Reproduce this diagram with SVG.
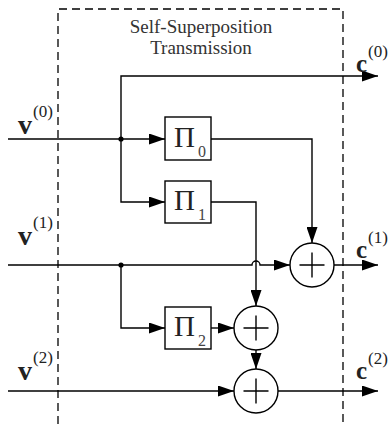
<svg xmlns="http://www.w3.org/2000/svg" width="392" height="424" viewBox="0 0 392 424">
<style>
.ln{fill:none;stroke:#000;stroke-width:1.4}
.arr{fill:none;stroke:#000;stroke-width:1.4;marker-end:url(#ah)}
.box{fill:#fff;stroke:#000;stroke-width:1.4}
.dash{fill:none;stroke:#000;stroke-width:1.3;stroke-dasharray:8,5}
.t{font-family:"Liberation Serif","Times New Roman",serif;fill:#222}
.title{font-size:19px;text-anchor:middle;fill:#333}
.vb{font-size:28px;font-weight:bold}
.cb{font-size:25px;font-weight:bold}
.sup{font-size:17px}
.pi{font-size:29px}
.sub{font-size:16px;fill:#444}
</style>
<defs>
<marker id="ah" markerUnits="userSpaceOnUse" markerWidth="16" markerHeight="11" refX="16" refY="5.5" orient="auto">
<path d="M0,0 L16,5.5 L0,11 z" fill="#000"/>
</marker>
</defs>
<g id="frame">
<path class="dash" d="M58,424 V9 H343 V424"/>
<text class="t title" x="201" y="33">Self-Superposition</text>
<text class="t title" x="201" y="54">Transmission</text>
</g>
<g id="connectors">
<path class="arr" d="M8,139 H165"/>
<path class="arr" d="M121,139 V76 H378"/>
<path class="arr" d="M121,139 V202 H165"/>
<path class="arr" d="M211,139 H312 V243"/>
<path class="arr" d="M8,265 H252 A4,4 0 0 1 260,265 H290"/>
<path class="arr" d="M211,202 H256 V306"/>
<path class="arr" d="M121,265 V328 H165"/>
<path class="arr" d="M211,328 H234"/>
<path class="arr" d="M256,350 V369"/>
<path class="arr" d="M8,391 H234"/>
<path class="arr" d="M334,265 H378"/>
<path class="arr" d="M278,391 H378"/>
<circle cx="121" cy="139" r="2.6" fill="#000"/>
<circle cx="121" cy="265" r="2.6" fill="#000"/>
</g>
<g id="pi0">
<rect class="box" x="165" y="117" width="46" height="43"/>
<text class="t pi" x="174" y="147">Π</text><text class="t sub" x="198" y="157">0</text>
</g>
<g id="pi1">
<rect class="box" x="165" y="181" width="46" height="42"/>
<text class="t pi" x="174" y="210">Π</text><text class="t sub" x="198" y="220">1</text>
</g>
<g id="pi2">
<rect class="box" x="165" y="307" width="46" height="42"/>
<text class="t pi" x="174" y="336">Π</text><text class="t sub" x="198" y="346">2</text>
</g>
<g id="add1">
<circle class="ln" cx="312" cy="265" r="22"/>
<path class="ln" d="M299.5,265 H324.5 M312,252.5 V277.5"/>
</g>
<g id="add2">
<circle class="ln" cx="256" cy="328" r="22"/>
<path class="ln" d="M243.5,328 H268.5 M256,315.5 V340.5"/>
</g>
<g id="add3">
<circle class="ln" cx="256" cy="391" r="22"/>
<path class="ln" d="M243.5,391 H268.5 M256,378.5 V403.5"/>
</g>
<g id="labels">
<text class="t vb" x="18" y="134">v</text><text class="t sup" x="33" y="117">(0)</text>
<text class="t vb" x="18" y="245">v</text><text class="t sup" x="33" y="228">(1)</text>
<text class="t vb" x="18" y="380">v</text><text class="t sup" x="33" y="363">(2)</text>
<text class="t cb" x="356" y="72">c</text><text class="t sup" x="368" y="57">(0)</text>
<text class="t cb" x="356" y="258">c</text><text class="t sup" x="368" y="243">(1)</text>
<text class="t cb" x="356" y="379">c</text><text class="t sup" x="368" y="364">(2)</text>
</g>
</svg>
